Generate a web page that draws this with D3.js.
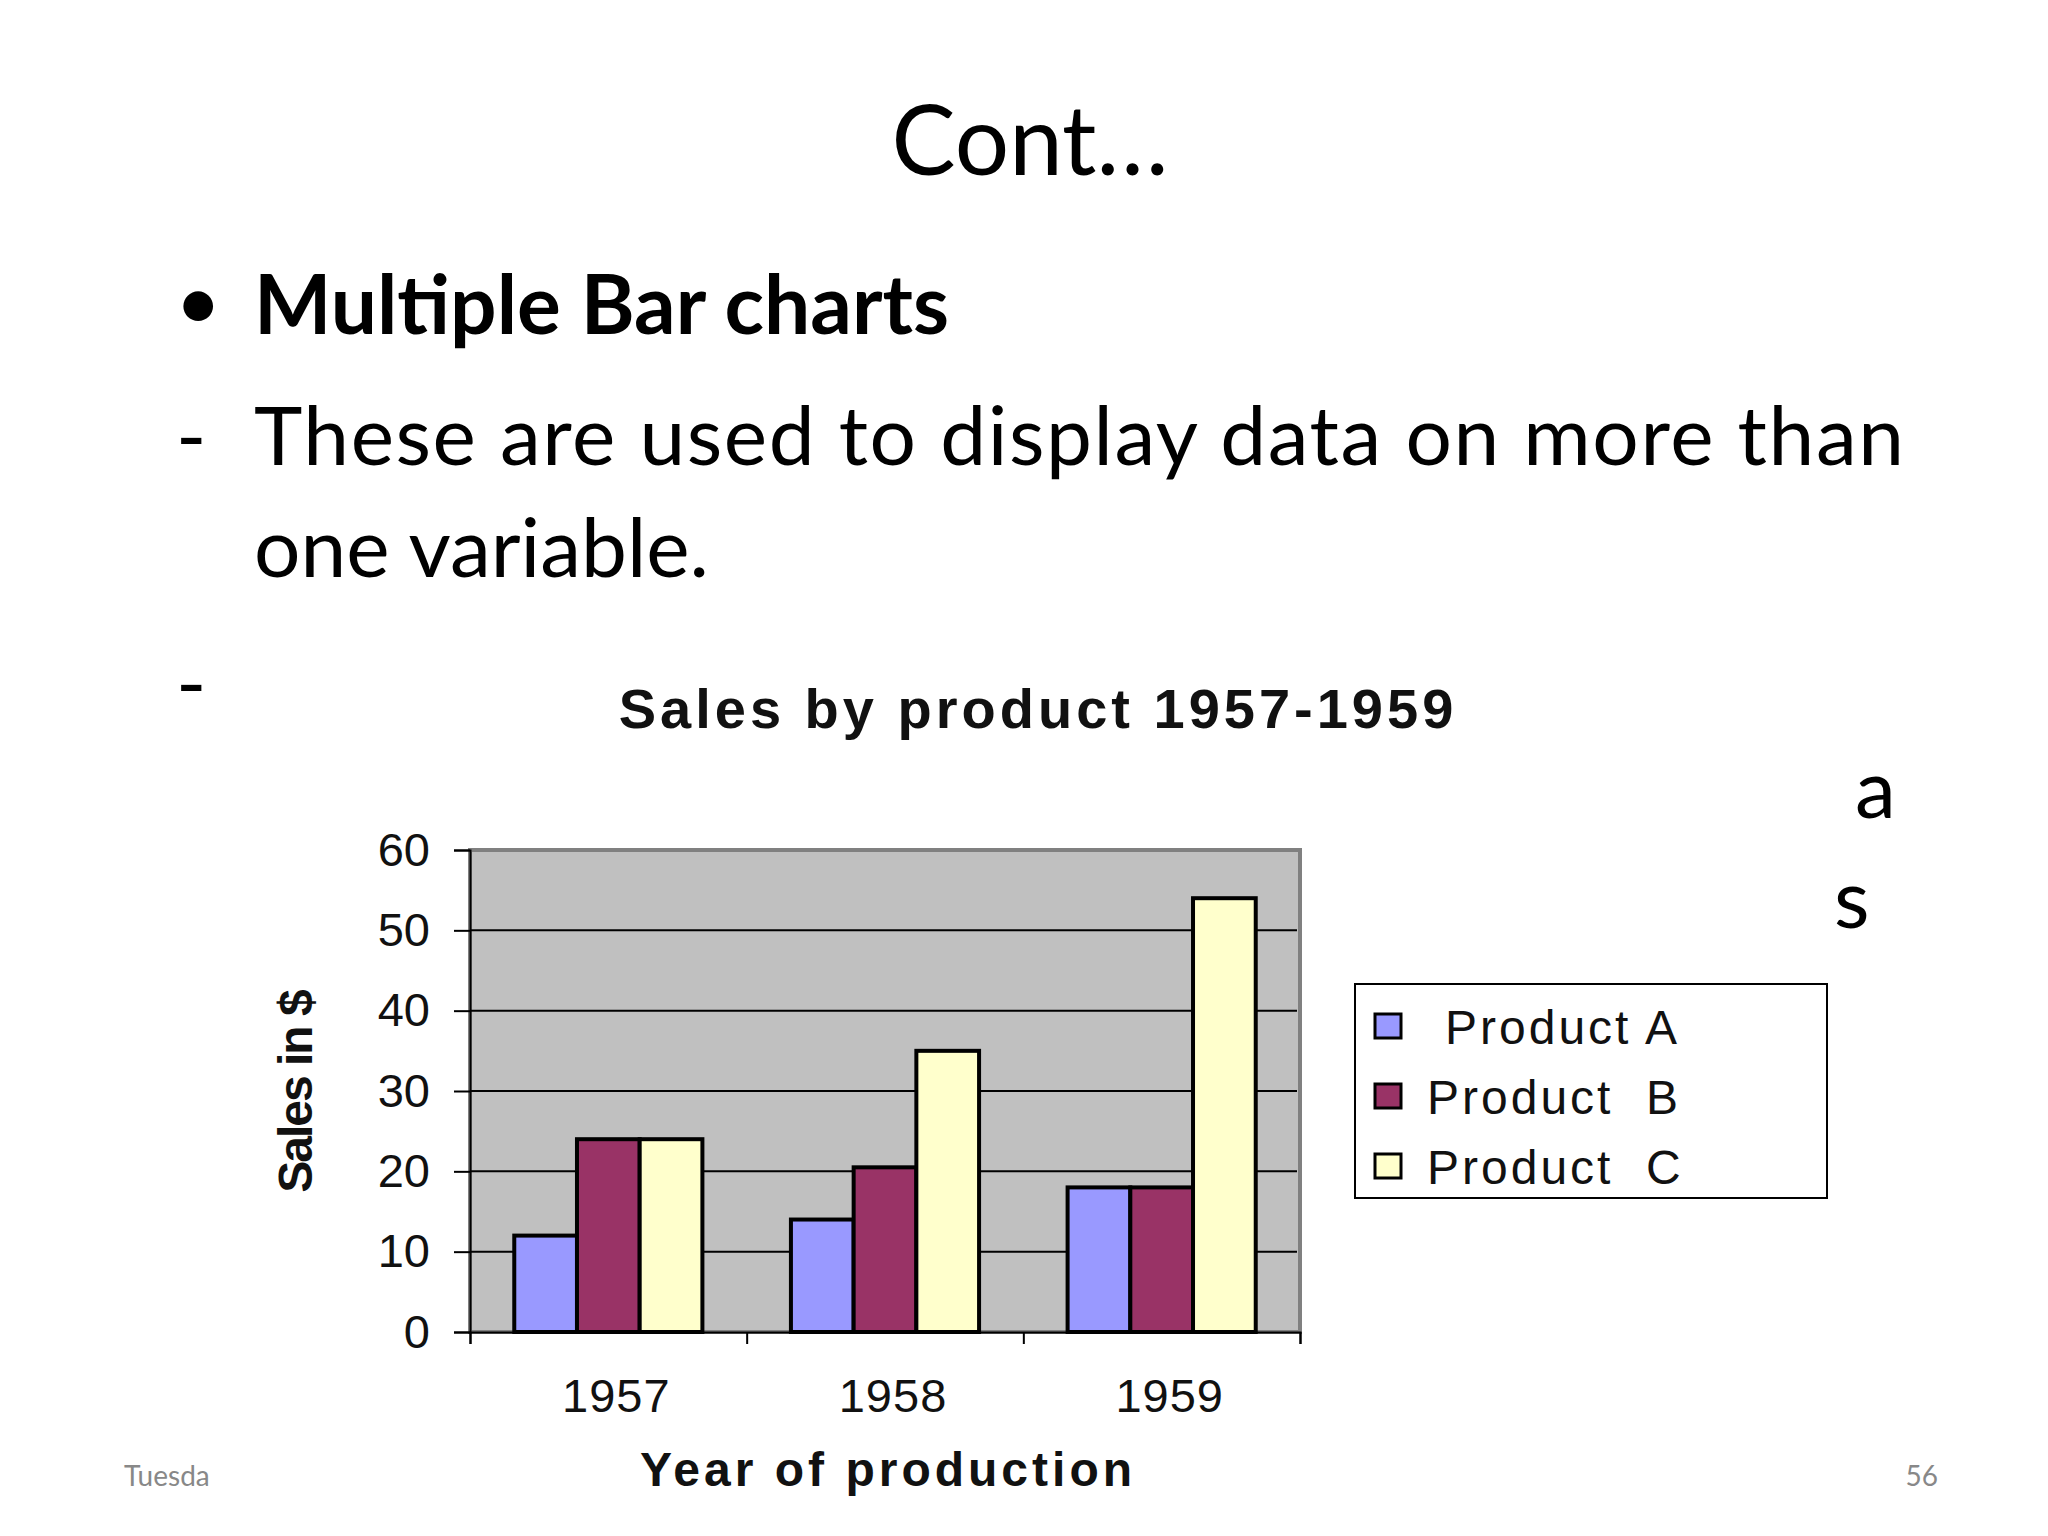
<!DOCTYPE html>
<html>
<head>
<meta charset="utf-8">
<script src="https://cdn.jsdelivr.net/npm/d3@7"></script>
<style>
  body { margin: 0; background: #fff; }
  svg { display: block; }
</style>
</head>
<body>
<svg id="slide" width="2048" height="1536"></svg>
<script>
// data
const years = ['1957', '1958', '1959'];
const products = ['Product A', 'Product B', 'Product C'];
const productA = [12, 14, 18];
const productB = [24, 20.5, 18];
const productC = [24, 35, 54];
const yTicks = [0, 10, 20, 30, 40, 50, 60];
const colors = ['#9999ff', '#993366', '#ffffcc'];

const series = [productA, productB, productC];
const svg = d3.select('#slide');
const slideFont = 'Lato, "Open Sans", sans-serif';
const chartFont = '"Liberation Sans", Arial, sans-serif';

// slide text
svg.append('text').attr('x', 1030).attr('y', 175).attr('text-anchor', 'middle')
	.attr('font-family', slideFont).attr('font-size', 96).text('Cont…');

svg.append('text').attr('x', 175).attr('y', 330).attr('font-family', slideFont)
	.attr('font-size', 80).text('•');
svg.append('text').attr('x', 254).attr('y', 334).attr('font-family', slideFont)
	.attr('font-size', 82).attr('font-weight', 'bold').text('Multiple Bar charts');

svg.append('text').attr('x', 176).attr('y', 465).attr('font-family', slideFont)
	.attr('font-size', 82).text('-');
svg.append('text').attr('x', 254).attr('y', 465).attr('font-family', slideFont)
	.attr('font-size', 82).attr('textLength', 1650).text('These are used to display data on more than');
svg.append('text').attr('x', 254).attr('y', 577).attr('font-family', slideFont)
	.attr('font-size', 82).text('one variable.');

// third line, mostly hidden behind the chart picture
svg.append('text').attr('x', 176).attr('y', 712).attr('font-family', slideFont)
	.attr('font-size', 82).text('-');
svg.append('text').attr('x', 300).attr('y', 728).attr('font-family', slideFont)
	.attr('font-size', 82).text('These are used for comparing different');
svg.append('text').attr('x', 1855).attr('y', 818).attr('font-family', slideFont)
	.attr('font-size', 82).text('a');
svg.append('text').attr('x', 1834).attr('y', 928).attr('font-family', slideFont)
	.attr('font-size', 82).text('s');

// chart picture (white background covers the slide text)
svg.append('rect').attr('x', 262).attr('y', 667).attr('width', 1570).attr('height', 845).attr('fill', '#fff');

svg.append('text').attr('x', 1038).attr('y', 728).attr('text-anchor', 'middle')
	.attr('font-family', chartFont).attr('font-weight', 'bold').attr('font-size', 56)
	.attr('letter-spacing', 4).attr('fill', '#111').text('Sales by product 1957-1959');

const plot = { x0: 470, x1: 1300, y0: 850, y1: 1332 };
const y = d3.scaleLinear().domain([0, 60]).range([plot.y1, plot.y0]);
const x = d3.scaleBand().domain(years).range([plot.x0, plot.x1]).paddingInner(0.32).paddingOuter(0.16);
const xs = d3.scaleBand().domain(d3.range(3)).range([0, x.bandwidth()]);

svg.append('rect').attr('x', plot.x0).attr('y', plot.y0)
	.attr('width', plot.x1 - plot.x0).attr('height', plot.y1 - plot.y0)
	.attr('fill', '#c0c0c0').attr('stroke', '#808080').attr('stroke-width', 4);

// gridlines
svg.append('g').selectAll('line').data(yTicks.filter(d => d > 0 && d < 60)).join('line')
	.attr('x1', plot.x0).attr('x2', plot.x1 - 3)
	.attr('y1', d => y(d)).attr('y2', d => y(d))
	.attr('stroke', '#000').attr('stroke-width', 2);

// bars
const bars = [];
years.forEach((yr, i) => series.forEach((s, j) => bars.push({ yr, j, v: s[i] })));
svg.append('g').selectAll('rect').data(bars).join('rect')
	.attr('x', d => x(d.yr) + xs(d.j))
	.attr('y', d => y(d.v))
	.attr('width', xs.bandwidth())
	.attr('height', d => plot.y1 - y(d.v))
	.attr('fill', d => colors[d.j])
	.attr('stroke', '#000').attr('stroke-width', 4);

// axes
const yAxis = svg.append('g').attr('transform', `translate(${plot.x0},0)`)
	.call(d3.axisLeft(y).tickValues(yTicks).tickSize(16).tickPadding(24));
const xAxis = svg.append('g').attr('transform', `translate(0,${plot.y1})`)
	.call(d3.axisBottom(d3.scaleLinear().domain([0, 3]).range([plot.x0, plot.x1]))
		.tickValues([0, 1, 2, 3]).tickSize(12).tickFormat(''));
[yAxis, xAxis].forEach(g => {
	g.selectAll('path, line').attr('stroke', '#000').attr('stroke-width', 2);
	g.selectAll('text').attr('font-family', chartFont).attr('font-size', 47).attr('fill', '#111');
});

svg.append('g').selectAll('text').data(years).join('text')
	.attr('x', d => x(d) + x.bandwidth() / 2 + 8).attr('y', 1412)
	.attr('text-anchor', 'middle').attr('font-family', chartFont).attr('font-size', 47)
	.attr('letter-spacing', 1).attr('fill', '#111').text(d => d);

svg.append('text').attr('transform', 'translate(312,1092) rotate(-90)')
	.attr('text-anchor', 'middle').attr('font-family', chartFont).attr('font-weight', 'bold')
	.attr('font-size', 48).attr('letter-spacing', -2).attr('fill', '#111').text('Sales in $');

svg.append('text').attr('x', 888).attr('y', 1486).attr('text-anchor', 'middle')
	.attr('font-family', chartFont).attr('font-weight', 'bold').attr('font-size', 48)
	.attr('letter-spacing', 4).attr('fill', '#111').text('Year of production');

// legend
svg.append('rect').attr('x', 1355).attr('y', 984).attr('width', 472).attr('height', 214)
	.attr('fill', '#fff').attr('stroke', '#000').attr('stroke-width', 2);
const leg = svg.append('g').selectAll('g').data(products).join('g')
	.attr('transform', (d, i) => `translate(1375,${1010 + i * 70})`);
leg.append('rect').attr('x', 0).attr('y', 4).attr('width', 26).attr('height', 24)
	.attr('fill', (d, i) => colors[i]).attr('stroke', '#000').attr('stroke-width', 3);
leg.append('text').attr('x', (d, i) => i === 0 ? 70 : 52).attr('y', 34)
	.attr('font-family', chartFont).attr('font-size', 48).attr('letter-spacing', 3)
	.attr('xml:space', 'preserve').attr('fill', '#111')
	.text(d => d.replace(' B', '  B').replace(' C', '  C'));

// footer
svg.append('text').attr('x', 124).attr('y', 1486).attr('font-family', slideFont)
	.attr('font-size', 28).attr('fill', '#888').text('Tuesda');
svg.append('text').attr('x', 1938).attr('y', 1486).attr('text-anchor', 'end')
	.attr('font-family', slideFont).attr('font-size', 28).attr('fill', '#888').text('56');
</script>
</body>
</html>
